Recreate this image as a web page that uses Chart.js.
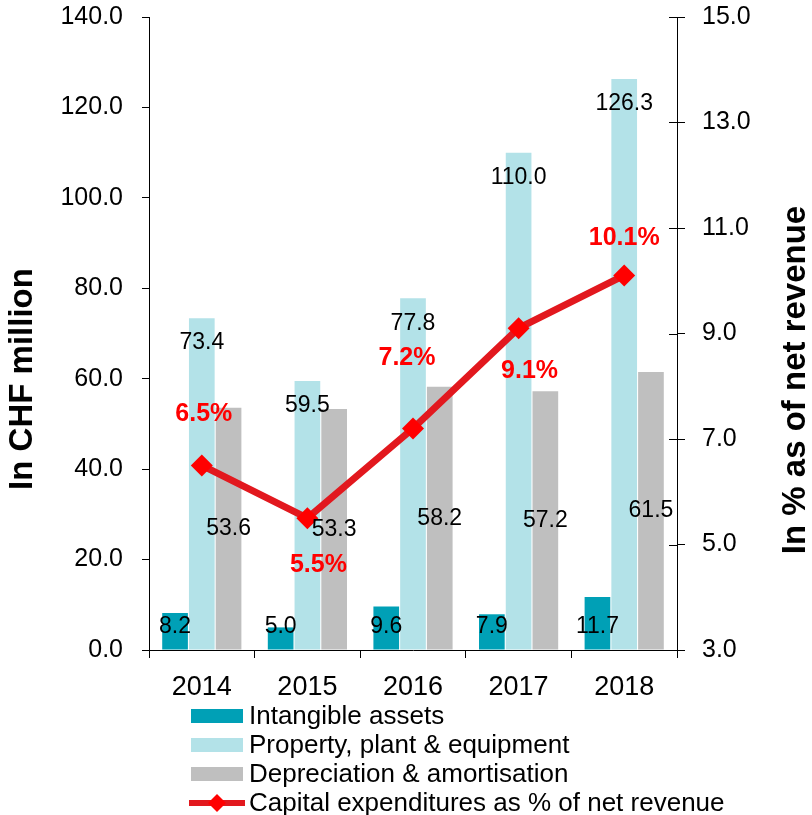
<!DOCTYPE html>
<html>
<head>
<meta charset="utf-8">
<script src="https://cdn.jsdelivr.net/npm/chart.js@4.4.1/dist/chart.umd.min.js"></script>
<style>
  body { margin: 0; background: #fff; }
  #wrap { width: 812px; height: 815px; position: relative; }
</style>
</head>
<body>
<div id="wrap"><canvas id="capex-chart"></canvas></div>
<script>
// data
const years = ['2014', '2015', '2016', '2017', '2018'];
const intangible = [8.2, 5.0, 9.6, 7.9, 11.7];
const ppe = [73.4, 59.5, 77.8, 110.0, 126.3];
const depreciation = [53.6, 53.3, 58.2, 57.2, 61.5];
const capexPct = [6.5, 5.5, 7.2, 9.1, 10.1];

const leftTicks = [0, 20, 40, 60, 80, 100, 120, 140];
const rightTicks = [3, 5, 7, 9, 11, 13, 15];

const FONT = "'Liberation Sans', Arial, sans-serif";
Chart.defaults.font.family = FONT;
Chart.defaults.color = '#000';

// where the red % labels sit relative to their points (dx, dy in px)
const pctLabelOffsets = [[2, -51], [11, 47], [-6, -70], [11, 43], [0, -37]];

const legendItems = [
    { text: 'Intangible assets', ds: 1 },
    { text: 'Property, plant & equipment', ds: 2 },
    { text: 'Depreciation & amortisation', ds: 3 },
    { text: 'Capital expenditures as % of net revenue', ds: 0 }
];

// labels, axis titles, legend and the crossing ticks on the right axis
const overlay = {
    id: 'overlay',
    afterDraw(chart) {
        const ctx = chart.ctx;
        const area = chart.chartArea;
        const yR = chart.scales.y1;
        ctx.save();

        // inner half of the right axis ticks
        ctx.strokeStyle = '#000';
        ctx.lineWidth = 1;
        yR.ticks.forEach(t => {
            const py = Math.round(yR.getPixelForValue(t.value)) + 0.5;
            ctx.beginPath();
            ctx.moveTo(area.right - 8, py);
            ctx.lineTo(area.right, py);
            ctx.stroke();
        });

        // bar value labels
        ctx.fillStyle = '#000';
        ctx.font = '23px ' + FONT;
        ctx.textAlign = 'center';
        ctx.textBaseline = 'middle';
        chart.getDatasetMeta(1).data.forEach((bar, i) => {
            ctx.fillText(intangible[i].toFixed(1), bar.x, bar.base - 23);
        });
        chart.getDatasetMeta(2).data.forEach((bar, i) => {
            ctx.fillText(ppe[i].toFixed(1), bar.x, bar.y + 25);
        });
        chart.getDatasetMeta(3).data.forEach((bar, i) => {
            ctx.fillText(depreciation[i].toFixed(1), bar.x, (bar.y + bar.base) / 2);
        });

        // % labels
        ctx.fillStyle = '#FF0000';
        ctx.font = 'bold 25px ' + FONT;
        chart.getDatasetMeta(0).data.forEach((pt, i) => {
            const off = pctLabelOffsets[i];
            ctx.fillText(capexPct[i].toFixed(1) + '%', pt.x + off[0], pt.y + off[1]);
        });

        // axis titles
        ctx.fillStyle = '#000';
        ctx.font = 'bold 33px ' + FONT;
        ctx.save();
        ctx.translate(23, 379);
        ctx.rotate(-Math.PI / 2);
        ctx.fillText('In CHF million', 0, 0);
        ctx.restore();
        ctx.save();
        ctx.translate(796, 380);
        ctx.rotate(-Math.PI / 2);
        ctx.fillText('In % as of net revenue', 0, 0);
        ctx.restore();

        // legend
        ctx.font = '26px ' + FONT;
        ctx.textAlign = 'left';
        const lx = 191, top = area.bottom + 66;
        legendItems.forEach((item, r) => {
            const ds = chart.data.datasets[item.ds];
            const cy = top + r * 29;
            if (ds.type === 'line') {
                ctx.strokeStyle = ds.borderColor;
                ctx.lineWidth = 6;
                ctx.beginPath();
                ctx.moveTo(lx - 2, cy);
                ctx.lineTo(lx + 54, cy);
                ctx.stroke();
                ctx.fillStyle = ds.pointBackgroundColor;
                ctx.beginPath();
                ctx.moveTo(lx + 26, cy - 9);
                ctx.lineTo(lx + 35, cy);
                ctx.lineTo(lx + 26, cy + 9);
                ctx.lineTo(lx + 17, cy);
                ctx.closePath();
                ctx.fill();
            } else {
                ctx.fillStyle = ds.backgroundColor;
                ctx.fillRect(lx, cy - 7, 52, 14);
            }
            ctx.fillStyle = '#000';
            ctx.fillText(item.text, lx + 58, cy + 1);
        });
        ctx.restore();
    }
};

const capexCanvas = document.getElementById('capex-chart');

const capexData = {
    labels: years,
    datasets: [{
        type: 'line',
        label: 'Capital expenditures as % of net revenue',
        data: capexPct,
        yAxisID: 'y1',
        borderColor: '#E2181E',
        borderWidth: 7,
        pointStyle: 'rectRot',
        pointRadius: 11,
        pointHoverRadius: 11,
        pointBackgroundColor: '#FF0000',
        pointBorderColor: '#FF0000',
        pointBorderWidth: 0,
        tension: 0,
        order: 0
    }, {
        type: 'bar',
        label: 'Intangible assets',
        data: intangible,
        yAxisID: 'y',
        backgroundColor: '#00A0B6',
        order: 1
    }, {
        type: 'bar',
        label: 'Property, plant & equipment',
        data: ppe,
        yAxisID: 'y',
        backgroundColor: '#B3E2E8',
        order: 1
    }, {
        type: 'bar',
        label: 'Depreciation & amortisation',
        data: depreciation,
        yAxisID: 'y',
        backgroundColor: '#BFBFBF',
        order: 1
    }]
};

// fixed widths and no extra label padding, so the plot area lands where it should
const fitY = w => s => {
    s.width = w;
    s.paddingTop = 0;
    s.paddingBottom = 0;
};

const capexOptions = {
    responsive: true,
    maintainAspectRatio: false,
    animation: { duration: 0 },
    layout: {
        padding: { top: 17, bottom: 120, left: 0, right: 0 }
    },
    datasets: {
        bar: { categoryPercentage: 0.76, barPercentage: 0.96 }
    },
    scales: {
        x: {
            grid: { drawOnChartArea: false, offset: true, tickLength: 8, color: '#000' },
            border: { color: '#000' },
            ticks: { font: { size: 27 }, padding: 13, color: '#000' },
            afterFit: s => { s.height = 45; s.paddingLeft = 0; s.paddingRight = 0; }
        },
        y: {
            position: 'left',
            min: 0,
            max: 140,
            afterBuildTicks: s => { s.ticks = leftTicks.map(v => ({ value: v })); },
            grid: { drawOnChartArea: false, tickLength: 7, color: '#000' },
            border: { color: '#000' },
            ticks: { font: { size: 25 }, padding: 19, color: '#000', callback: v => v.toFixed(1) },
            afterFit: fitY(149)
        },
        y1: {
            position: 'right',
            min: 3,
            max: 15,
            afterBuildTicks: s => { s.ticks = rightTicks.map(v => ({ value: v })); },
            grid: { drawOnChartArea: false, tickLength: 8, color: '#000' },
            border: { color: '#000' },
            ticks: { font: { size: 25 }, padding: 17, color: '#000', callback: v => v.toFixed(1) },
            afterFit: fitY(135)
        }
    },
    plugins: {
        legend: { display: false },
        tooltip: { enabled: false }
    }
};

let capexChart = new Chart(capexCanvas, {
    data: capexData,
    options: capexOptions,
    plugins: [overlay]
});
</script>
</body>
</html>
